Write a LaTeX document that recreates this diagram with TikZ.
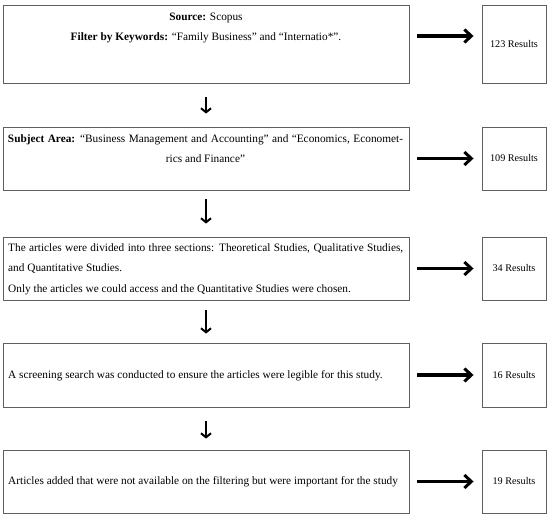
\documentclass[tikz,border=0pt]{standalone}
\usepackage{fontspec}
\setmainfont{Liberation Serif}
\usetikzlibrary{arrows.meta}
\definecolor{boxgray}{RGB}{95,95,95}
\begin{document}
\begin{tikzpicture}[x=1pt,y=-1pt,
  box/.style={draw=boxgray, line width=0.9pt, inner sep=0pt, minimum width=406pt},
  res/.style={draw=boxgray, line width=0.9pt, inner sep=0pt, minimum width=64pt, font=\fontsize{10.2}{12}\selectfont},
  txt/.style={inner sep=0pt, font=\fontsize{11.3}{20.5}\selectfont},
  rarrow/.style={-{Straight Barb[length=7pt,width=13pt,line width=3pt]}, line width=3.2pt},
  darrow/.style={-{Straight Barb[length=4pt,width=10pt]}, line width=2pt}]
\useasboundingbox (0,0) rectangle (550,519);
% main boxes
\node[box, minimum height=78pt] (b1) at (206,44) {};
\node[box, minimum height=63pt] (b2) at (206,158.5) {};
\node[box, minimum height=63pt] (b3) at (206,268.5) {};
\node[box, minimum height=64pt] (b4) at (206,375) {};
\node[box, minimum height=63pt] (b5) at (206,481.5) {};
% result boxes
\node[res, minimum height=78pt] (r1) at (514,44) {123 Results};
\node[res, minimum height=63pt] (r2) at (514,158.5) {109 Results};
\node[res, minimum height=63pt] (r3) at (514,268.5) {34 Results};
\node[res, minimum height=64pt] (r4) at (514,375) {16 Results};
\node[res, minimum height=63pt] (r5) at (514,481.5) {19 Results};
% texts
\node[txt, align=center] (t1) at (206,28) {\textbf{Source:} Scopus\\\textbf{Filter by Keywords:} “Family Business” and “Internatio*”.};
\node[txt, align=center] (t2) at (205.5,148.5) {\makebox[395pt][s]{\textbf{Subject Area:} “Business Management and Accounting” and “Economics, Economet-}\\rics and Finance”};
\node[txt, align=left, anchor=west] (t3) at (8,269) {\makebox[395pt][s]{The articles were divided into three sections: Theoretical Studies, Qualitative Studies,}\\and Quantitative Studies.\\Only the articles we could access and the Quantitative Studies were chosen.};
\node[txt, anchor=west] (t4) at (8,376) {A screening search was conducted to ensure the articles were legible for this study.};
\node[txt, anchor=west] (t5) at (8,482) {Articles added that were not available on the filtering but were important for the study};
% right arrows
\draw[rarrow, shorten <=8pt, shorten >=8pt] ([yshift=8pt]b1.east) -- ([yshift=8pt]r1.west);
\draw[rarrow, shorten <=8pt, shorten >=8pt] (b2) -- (r2);
\draw[rarrow, shorten <=8pt, shorten >=8pt] (b3) -- (r3);
\draw[rarrow, shorten <=8pt, shorten >=8pt] (b4) -- (r4);
\draw[rarrow, shorten <=8pt, shorten >=8pt] (b5) -- (r5);
% down arrows
\draw[darrow, shorten <=14pt, shorten >=13pt] (b1) -- (b2);
\draw[darrow, shorten <=9pt, shorten >=13pt] (b2) -- (b3);
\draw[darrow, shorten <=10pt, shorten >=9pt] (b3) -- (b4);
\draw[darrow, shorten <=14pt, shorten >=11pt] (b4) -- (b5);
\end{tikzpicture}
\end{document}
